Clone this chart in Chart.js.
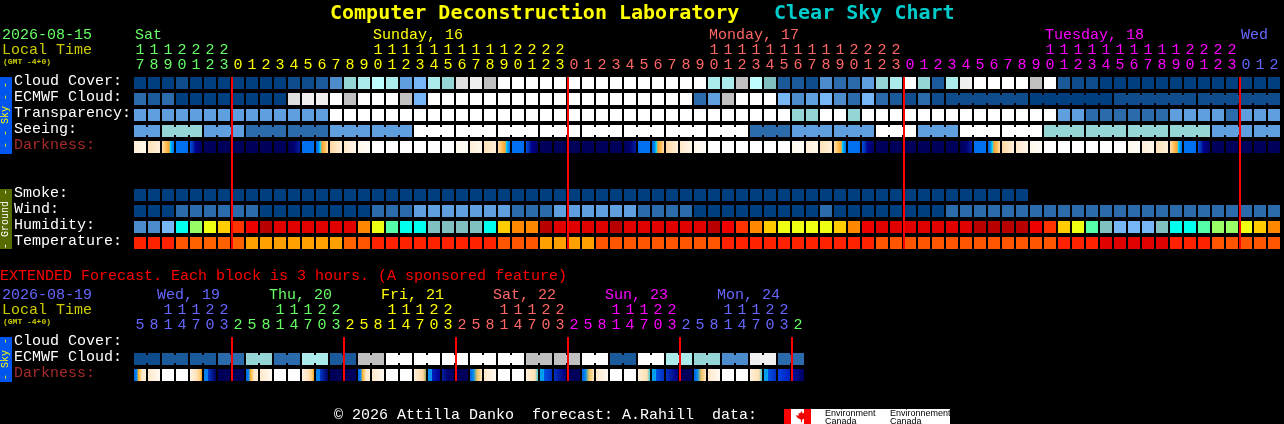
<!DOCTYPE html>
<html><head><meta charset="utf-8">
<script src="https://cdn.jsdelivr.net/npm/chart.js@4"></script>
<style>
html,body{margin:0;padding:0;background:#000;width:1284px;height:424px;overflow:hidden}
canvas{position:absolute;left:0;display:block}
.t{position:absolute;font:15px/18px "Liberation Mono",monospace;white-space:pre;z-index:3}
.b{font:bold 20px/24px "DejaVu Sans Mono",monospace}
.s{font:bold 8px/10px "Liberation Mono",monospace}
.side{position:absolute;left:0;width:12px;z-index:3}
.v{position:absolute;left:6px;font:10px/12px "Liberation Mono",monospace;white-space:pre;transform:translate(-50%,-50%) rotate(-90deg)}
.logo{position:absolute;left:784px;top:409px;width:166px;height:15px;background:#fff;overflow:hidden;z-index:3}
.logo i{position:absolute;top:0;height:15px;width:7px;background:#f00}
.logo b{position:absolute;left:12px;top:2px;width:11px;height:11px;background:#e00;clip-path:polygon(50% 0,62% 22%,78% 15%,72% 42%,100% 38%,88% 62%,55% 80%,55% 100%,45% 100%,45% 80%,12% 62%,0 38%,28% 42%,22% 15%,38% 22%)}
.logo span{position:absolute;font:9px/8px "Liberation Sans",sans-serif;color:#000;white-space:pre}
</style></head><body>
<canvas id="main" width="1284" height="260" style="top:0"></canvas>
<canvas id="ext" width="1284" height="164" style="top:260px"></canvas>
<div class="t b" style="left:330px;top:0;color:#ffff00">Computer Deconstruction Laboratory</div>
<div class="t b" style="left:774px;top:0;color:#00cccc">Clear Sky Chart</div>
<div class="t" style="left:2px;top:27px;color:#66ff66">2026-08-15</div>
<div class="t" style="left:2px;top:42px;color:#cccc00">Local Time</div>
<div class="t s" style="left:3px;top:57px;color:#cccc00">(GMT -4+0)</div>
<div class="t" style="left:0;top:268px;color:#ff0000">EXTENDED Forecast. Each block is 3 hours. (A sponsored feature)</div>
<div class="t" style="left:2px;top:287px;color:#6666ff">2026-08-19</div>
<div class="t" style="left:2px;top:302px;color:#cccc00">Local Time</div>
<div class="t s" style="left:3px;top:317px;color:#cccc00">(GMT -4+0)</div>
<div class="t" style="left:334px;top:407px;color:#fff">© 2026 Attilla Danko  forecast: A.Rahill  data:</div>
<div class="side" style="top:77px;height:77px;background:#0055ee"><div class="v" style="top:38px;color:#ffff00">- - Sky - -</div></div>
<div class="side" style="top:189px;height:60px;background:#556b00"><div class="v" style="top:30px;color:#fff">- Ground -</div></div>
<div class="side" style="top:337px;height:45px;background:#0055ee"><div class="v" style="top:22px;color:#ffff00">- Sky -</div></div>
<div class="logo"><i style="left:0"></i><i style="left:20px"></i><b></b>
<span style="left:41px;top:0">Environment</span><span style="left:41px;top:8px">Canada</span>
<span style="left:106px;top:0">Environnement</span><span style="left:106px;top:8px">Canada</span></div>
<script>
// ---------- categories ----------
const hours = ["17","18","19","20","21","22","23","0","1","2","3","4","5","6","7","8","9","10","11","12","13","14","15","16","17","18","19","20","21","22","23","0","1","2","3","4","5","6","7","8","9","10","11","12","13","14","15","16","17","18","19","20","21","22","23","0","1","2","3","4","5","6","7","8","9","10","11","12","13","14","15","16","17","18","19","20","21","22","23","0","1","2"];
const extHours = ["5","8","11","14","17","20","23","2","5","8","11","14","17","20","23","2","5","8","11","14","17","20","23","2","5","8","11","14","17","20","23","2","5","8","11","14","17","20","23","2","5","8","11","14","17","20","23","2"];
const rowNames = ["Cloud Cover:","ECMWF Cloud:","Transparency:","Seeing:","Darkness:","Smoke:","Wind:","Humidity:","Temperature:"];
const rowPositions = [0,1,2,3,4,7,8,9,10];
const rowColors = ["#fff","#fff","#fff","#fff","#a52a2a","#fff","#fff","#fff","#fff"];
const extRowNames = ["Cloud Cover:","ECMWF Cloud:","Darkness:"];
const extRowColors = ["#fff","#fff","#a52a2a"];
const midnightCols = [7,31,55,79];
const extMidnightCols = [7,15,23,31,39,47];
const dayLabels = [["Sat",0,"#66ff66"],["Sunday, 16",17,"#ffff00"],["Monday, 17",41,"#ff6666"],["Tuesday, 18",65,"#ff00ff"],["Wed",79,"#6666ff"]];
const extDayLabels = [["Wed, 19",2,"#6666ff"],["Thu, 20",10,"#66ff66"],["Fri, 21",18,"#ffff00"],["Sat, 22",26,"#ff6666"],["Sun, 23",34,"#ff00ff"],["Mon, 24",42,"#6666ff"]];
const dayColors = ["#66ff66","#ffff00","#ff6666","#ff00ff","#6666ff"];
const extDayColors = ["#6666ff","#66ff66","#ffff00","#ff6666","#ff00ff","#6666ff","#66ff66"];

// ---------- palettes (value level -> colour) ----------
const skyPalette = ["#003f7f","#0f4c8c","#1b5a9a","#2b6bab","#4c8ccc","#5f9fdf","#76b6f6","#80c0c0","#95d5d5","#abebeb","#bfffff","#c0c0c0","#dfdfdf","#f0f0f0","#ffffff"];
const humidPalette = ["#4c8ccc","#76b6f6","#80c0c0","#00ffee","#55ffaa","#99ff66","#eeff11","#ffcc00","#ff8800","#ff3300","#ee0000","#e00000","#b80000"];
const tempPalette = ["#e00000","#ff2200","#ff5500","#ff6000","#ffa000"];
const darkStops = {
 W:[[0,"#ffffff"],[1,"#ffffff"]],
 N:[[0,"#00005a"],[1,"#00005a"]],
 a:[[0,"#fff8ee"],[1,"#fffdf8"]],
 b:[[0,"#ffeed8"],[1,"#fff8ec"]],
 c:[[0,"#ffe2b8"],[1,"#fff0da"]],
 D:[[0,"#ffe0a8"],[.45,"#ffb040"],[.6,"#ffa030"],[.68,"#00e0ff"],[.8,"#00a0f0"],[1,"#0070f0"]],
 B:[[0,"#0070f0"],[1,"#0070f0"]],
 e:[[0,"#0050e0"],[.25,"#0030b0"],[.45,"#000090"],[1,"#000060"]],
 f:[[0,"#00005a"],[.5,"#000070"],[1,"#0020a0"]],
 M:[[0,"#0060e0"],[.25,"#0090f0"],[.35,"#00e0ff"],[.5,"#ffa030"],[.7,"#ffb850"],[1,"#ffe0a8"]],
 g:[[0,"#ffd8a0"],[1,"#fff0da"]],
 h:[[0,"#ffe8c8"],[1,"#fff6ea"]],
 i:[[0,"#fff6ea"],[1,"#fffdf8"]],
 p:[[0,"#0060e0"],[.25,"#0090f0"],[.36,"#ffb030"],[.55,"#ffd080"],[.65,"#ffe8c8"],[1,"#fff0d8"]],
 q:[[0,"#ffe8c8"],[1,"#fffaf2"]],
 r:[[0,"#fff4e4"],[.6,"#ffe0b0"],[.85,"#ffc870"],[1,"#ffa820"]],
 s:[[0,"#0080f0"],[.33,"#0080f0"],[.38,"#0030c0"],[1,"#000060"]],
 t:[[0,"#fff0dc"],[.75,"#ffd8a0"],[.85,"#e8c080"],[1,"#80b060"]],
 u:[[0,"#0090f0"],[.3,"#0090f0"],[.35,"#0020c0"],[1,"#000090"]],
 v:[[0,"#0020a0"],[.5,"#000070"],[1,"#000060"]],
 x:[[0,"#0060e0"],[.3,"#0090f0"],[.45,"#80b090"],[.6,"#f0c060"],[1,"#ffe8c0"]],
 y:[[0,"#fff0dc"],[.75,"#ffe0b0"],[.9,"#90d0c0"],[1,"#40d0e0"]],
 z:[[0,"#00a0f0"],[.3,"#00a0f0"],[.35,"#0050e0"],[1,"#0030c0"]],
 k:[[0,"#0030c0"],[.6,"#001090"],[1,"#000080"]],
 l:[[0,"#0040e0"],[1,"#0020c0"]],
 m:[[0,"#0010a0"],[1,"#000060"]]
};

// ---------- hourly forecast series (levels) ----------
const cloudCover = [0,0,0,1,0,0,0,0,0,0,0,1,1,2,4,8,9,10,9,5,6,9,8,12,13,11,14,14,14,14,14,14,14,14,14,14,14,14,14,14,14,9,9,11,10,7,2,2,1,4,3,3,5,8,9,14,8,2,9,13,14,14,14,14,11,14,2,1,1,0,0,0,0,0,0,0,0,0,0,0,0,0];
const ecmwfCloud = [3,2,3,0,0,0,0,0,0,0,0,12,13,13,14,11,14,14,14,11,6,14,14,14,14,14,14,14,14,14,14,14,14,14,14,14,14,14,14,14,3,5,11,14,14,14,6,4,5,6,4,3,6,3,2,1,3,1,1,1,1,1,1,1,0,0,0,0,0,0,1,1,1,1,1,1,1,1,1,1,1,1];
const ecmwfGroupStarts = [58,64,70,76];
const transparency = [5,5,5,5,5,5,5,5,5,5,5,5,5,5,14,14,14,14,14,14,14,14,14,14,14,14,14,14,14,14,14,14,14,14,14,14,14,14,14,14,14,14,14,14,14,14,14,8,8,14,14,8,14,14,14,14,14,14,14,14,14,14,14,14,14,14,5,5,3,3,3,3,3,3,5,5,5,5,3,5,5,5];
const seeing = [5,5,8,8,8,5,5,5,3,3,3,3,3,3,5,5,5,5,5,5,14,14,14,14,14,14,14,14,14,14,14,14,14,14,14,14,14,14,14,14,14,14,14,14,3,3,3,5,5,5,5,5,5,14,14,14,5,5,5,14,14,14,14,14,14,8,8,8,8,8,8,8,8,8,8,8,8,5,5,5,5,5];
const seeingGroupStarts = [0,2,5,8,11,14,17,20,23,26,29,32,35,38,41,44,47,50,53,56,59,62,65,68,71,74,77,80];
const darkness = ["b","c","D","B","e","N","N","N","N","N","N","f","B","M","g","h","i","W","W","W","W","W","W","a","b","c","D","B","e","N","N","N","N","N","N","f","B","M","g","h","i","W","W","W","W","W","W","a","b","c","D","B","e","N","N","N","N","N","N","f","B","M","g","h","i","W","W","W","W","W","W","a","b","c","D","B","e","N","N","N","N","N"];
const smoke = [0,0,0,0,0,0,0,0,0,0,0,0,0,0,0,0,0,0,0,0,0,0,0,0,0,0,0,0,0,0,0,0,0,0,0,0,0,0,0,0,0,0,0,0,0,0,0,0,0,0,0,0,0,0,0,0,0,0,0,0,0,0,0,0];
const wind = [0,0,0,3,3,3,3,3,3,0,0,0,0,0,0,0,0,3,3,3,5,5,5,5,5,5,5,3,3,3,5,5,5,5,5,5,3,3,3,3,0,0,0,0,0,0,0,0,0,3,0,0,0,0,0,0,0,0,3,3,3,3,3,3,3,3,3,3,3,3,3,3,3,3,3,3,3,3,3,3,3,3];
const humidity = [0,0,1,3,5,6,7,9,10,12,11,11,11,11,11,11,8,6,4,3,3,2,2,2,2,3,7,8,8,12,11,11,11,11,12,11,11,11,11,11,11,12,10,9,8,7,6,6,6,6,7,8,10,11,11,11,11,11,11,11,12,12,12,12,10,9,7,6,4,2,1,1,1,2,3,3,4,5,5,6,7,8];
const temperature = [1,1,1,2,3,3,3,3,4,4,4,4,4,4,4,3,2,1,1,1,1,1,1,1,1,1,2,2,2,4,4,4,4,2,2,2,2,2,2,2,2,2,1,1,1,1,1,1,1,1,1,1,1,2,2,2,2,2,2,2,2,2,2,2,2,2,1,1,1,0,0,0,0,0,1,1,1,2,2,2,2,2];

// ---------- extended (3-hourly) series ----------
const extEcmwf = [1,1,2,2,2,2,3,3,8,8,3,3,9,9,2,2,11,11,14,14,14,14,14,14,14,14,14,14,11,11,11,11,14,14,2,2,14,14,9,9,8,8,4,4,13,13,3,3];
const extGroupStarts = [0,2,4,6,8,10,12,14,16,18,20,22,24,26,28,30,32,34,36,38,40,42,44,46];
const extDarkness = ["p","q","W","W","r","s","N","N","p","q","W","W","r","s","N","N","p","q","W","W","t","u","v","N","x","q","W","W","y","z","k","N","x","q","W","W","y","z","k","N","x","q","W","W","y","z","l","m"];

// ---------- helpers ----------
const HALF = 0.375, NECK = 0.25;
const cellBars = (vals,row) => vals.map(v => v==null ? null : [row-HALF,row+HALF]);
function levelRow(vals,row,pal){
  return {label:rowLabel(row),data:cellBars(vals,row),backgroundColor:vals.map(v=>pal[v]),xAxisID:'x'};
}
function rowLabel(r){return 'row'+r}
function neckRow(vals,row,pal,starts,from){
  const pts=[],cols=[];
  for(let i=from;i<vals.length-1;i++){
    if(!starts.includes(i+1)){pts.push({x:i+.5,y:[row-NECK,row+NECK]});cols.push(pal[vals[i]]);}
  }
  return {label:'join'+row,data:pts,backgroundColor:cols,xAxisID:'xJoin',barThickness:2};
}
function darkRow(codes,row){
  return {label:'darkness',data:codes.map(()=>[row-HALF,row+HALF]),xAxisID:'x',
    backgroundColor(c){
      if(c.dataIndex===undefined) return '#000';
      const stops=darkStops[codes[c.dataIndex]];
      const sc=c.chart.scales.x, px=sc?sc.getPixelForValue(c.dataIndex):NaN;
      if(!isFinite(px)) return stops[0][1];
      const g=c.chart.ctx.createLinearGradient(px-6,0,px+6,0);
      stops.forEach(s=>g.addColorStop(s[0],s[1]));
      return g;
    }};
}
const cfgPlugin = (cols,lastRow,labels,labelY,off)=>({
  id:'marks',
  afterDatasetsDraw(ch){
    const c=ch.ctx,x=ch.scales.x,y=ch.scales.y;
    c.save();c.fillStyle='#ff0000';
    const t=y.getPixelForValue(-HALF),b=y.getPixelForValue(lastRow+HALF);
    cols.forEach(k=>{const p=x.getPixelForValue(k)-6;c.fillRect(p-1,t,2,b-t);});
    c.font='15px "Liberation Mono",monospace';c.textBaseline='middle';c.textAlign='left';
    labels.forEach(l=>{c.fillStyle=l[2];c.fillText(l[0],x.getPixelForValue(l[1])+off,labelY);});
    c.restore();
  }
});
function makeChart(id,o){
  new Chart(document.getElementById(id),{
    type:'bar',
    data:{labels:o.labels,datasets:o.datasets},
    plugins:[o.plugin],
    options:{
      responsive:false,animation:false,devicePixelRatio:1,
      layout:{padding:o.padding},
      plugins:{legend:{display:false},tooltip:{enabled:false},title:{display:false}},
      datasets:{bar:{grouped:false,barThickness:12,borderWidth:0,inflateAmount:0,categoryPercentage:1,barPercentage:1}},
      scales:{
        x:{type:'category',position:'top',grid:{display:false,drawTicks:false},border:{display:false},
           afterFit(s){s.height=o.axisHeight},
           ticks:{autoSkip:false,maxRotation:0,minRotation:0,padding:o.tickPad,
             font:{family:'"Liberation Mono",monospace',size:15,lineHeight:1},
             color:c=>o.tickColor(c.index),
             callback(v,i){const h=o.labels[i];return h.length>1?[h[0],h[1]]:['',h];}}},
        xJoin:{type:'linear',display:false,min:-.5,max:o.labels.length-.5,offset:false},
        y:{type:'linear',reverse:true,min:o.yMin,max:o.yMax,grid:{display:false,drawTicks:false},border:{display:false},
           afterFit(s){s.width=119},
           afterBuildTicks(s){s.ticks=o.rowPos.map(v=>({value:v-0.125}))},
           ticks:{autoSkip:false,crossAlign:'far',padding:0,
             font:{family:'"Liberation Mono",monospace',size:15},
             color:c=>o.rowColors[c.index],
             callback(v,i){return o.rowNames[i]}}}
      }
    }
  });
}
function colourIndexer(mids,cols){return i=>{let d=0;mids.forEach(m=>{if(i>=m)d++});return cols[d]}}

makeChart('main',{
  labels:hours,rowPos:rowPositions,rowNames,rowColors,yMin:-.625,yMax:10.5,tickPad:0,axisHeight:30,
  padding:{left:14,right:3,top:43,bottom:9},
  tickColor:colourIndexer(midnightCols,dayColors),
  plugin:cfgPlugin(midnightCols,10,dayLabels,35,-5),
  datasets:[
    levelRow(cloudCover,0,skyPalette),
    levelRow(ecmwfCloud,1,skyPalette),
    neckRow(ecmwfCloud,1,skyPalette,ecmwfGroupStarts,58),
    levelRow(transparency,2,skyPalette),
    levelRow(seeing,3,skyPalette),
    neckRow(seeing,3,skyPalette,seeingGroupStarts,0),
    darkRow(darkness,4),
    levelRow(smoke,7,skyPalette),
    levelRow(wind,8,skyPalette),
    levelRow(humidity,9,humidPalette),
    levelRow(temperature,10,tempPalette)
  ]
});
makeChart('ext',{
  labels:extHours,rowPos:[0,1,2],rowNames:extRowNames,rowColors:extRowColors,yMin:-.375,yMax:2.5,tickPad:4,axisHeight:40,
  padding:{left:14,right:479,top:37,bottom:41},
  tickColor:colourIndexer(extMidnightCols,extDayColors),
  plugin:cfgPlugin(extMidnightCols,2,extDayLabels,35,-11),
  datasets:[
    levelRow(extEcmwf,1,skyPalette),
    neckRow(extEcmwf,1,skyPalette,extGroupStarts,0),
    darkRow(extDarkness,2)
  ]
});
</script>
</body></html>
